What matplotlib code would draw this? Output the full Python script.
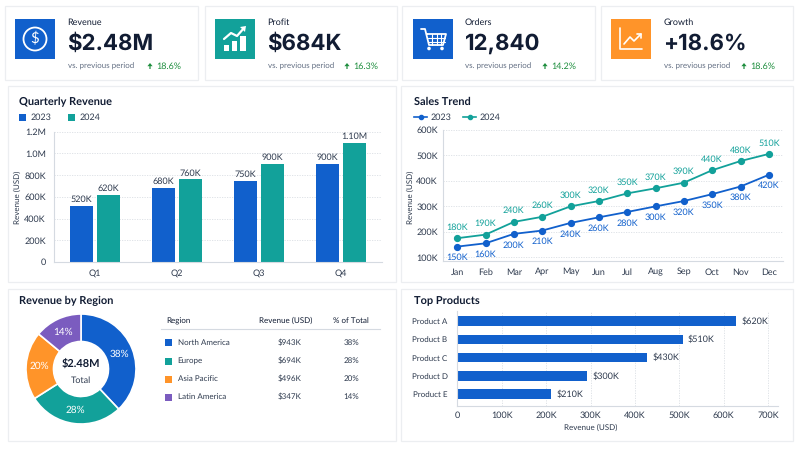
import numpy as np
import matplotlib
matplotlib.use("Agg")
import matplotlib.pyplot as plt
from matplotlib.patches import Rectangle, Circle, Polygon

plt.rcParams['font.family'] = ['Lato', 'DejaVu Sans']
plt.rcParams['text.hinting'] = 'no_hinting'
plt.rcParams['text.hinting_factor'] = 1

BLUE = '#1160CC'
TEAL = '#12A19A'
ORANGE = '#FF9429'
PURPLE = '#7B5CBF'
NAVY = '#111C33'
TEXT = '#2E3A4E'
GRAY = '#647084'
GREEN = '#1E8E3E'
BORDER = '#ECEEF1'
GRID = '#DADEE4'
AXIS = '#D5DAE1'

# KPI cards
kpi_names = ['Revenue', 'Profit', 'Orders', 'Growth']
kpi_values = ['$2.48M', '$684K', '12,840', '+18.6%']
kpi_changes = ['18.6%', '16.3%', '14.2%', '18.6%']

# Quarterly revenue
quarters = ['Q1', 'Q2', 'Q3', 'Q4']
q_2023 = [520, 680, 750, 900]
q_2024 = [620, 760, 900, 1100]
q_labels_2023 = ['520K', '680K', '750K', '900K']
q_labels_2024 = ['620K', '760K', '900K', '1.10M']
q_ticks = [0, 200, 400, 600, 800, 1000, 1200]
q_ticklabels = ['0', '200K', '400K', '600K', '800K', '1.0M', '1.2M']

# Sales trend (line heights, labels as printed)
months = ['Jan', 'Feb', 'Mar', 'Apr', 'May', 'Jun', 'Jul', 'Aug', 'Sep', 'Oct', 'Nov', 'Dec']
sales_2023 = [142, 155, 192, 205, 235, 257, 278, 300, 321, 348, 378, 424]
sales_2024 = [175, 189, 239, 259, 300, 321, 351, 371, 393, 442, 478, 506]
sales_labels_2023 = ['150K', '160K', '200K', '210K', '240K', '260K', '280K', '300K', '320K', '350K', '380K', '420K']
sales_labels_2024 = ['180K', '190K', '240K', '260K', '300K', '320K', '350K', '370K', '390K', '440K', '480K', '510K']
sales_ticks = [100, 200, 300, 400, 500, 600]

# Region donut and table
regions = ['North America', 'Europe', 'Asia Pacific', 'Latin America']
region_share = [38, 28, 20, 14]
region_revenue = ['$943K', '$694K', '$496K', '$347K']
region_colors = [BLUE, TEAL, ORANGE, PURPLE]

# Top products
products = ['Product A', 'Product B', 'Product C', 'Product D', 'Product E']
product_values = [628, 507, 427, 293, 212]
product_labels = ['$620K', '$510K', '$430K', '$300K', '$210K']
product_ticks = [0, 100, 200, 300, 400, 500, 600, 700]


def px_axes(left, top, right, bottom):
    # axes placed by pixel edges on the 800x450 canvas
    ax = fig.add_axes([left / 800, 1 - bottom / 450, (right - left) / 800, (bottom - top) / 450])
    ax.patch.set_alpha(0)
    for side in ['top', 'right']:
        ax.spines[side].set_visible(False)
    for side in ['left', 'bottom']:
        ax.spines[side].set_color(AXIS)
        ax.spines[side].set_linewidth(0.8)
    return ax


def card(x0, y0, x1, y1):
    bg.add_patch(Rectangle((x0, y0), x1 - x0, y1 - y0, fc='white', ec=BORDER, lw=0.9))


def icon_line(xs, ys, lw=1.3):
    bg.plot(xs, ys, color='white', lw=lw, solid_capstyle='round', solid_joinstyle='round', zorder=3)


def white_rect(x, y, w, h):
    bg.add_patch(Rectangle((x, y), w, h, fc='white', ec='none', zorder=3))


fig = plt.figure(figsize=(8, 4.5), dpi=100, facecolor='white')
bg = fig.add_axes([0, 0, 1, 1])
bg.set_xlim(0, 800)
bg.set_ylim(450, 0)
bg.axis('off')

# ---- KPI row
card_edges = [(5, 198), (205, 397), (402, 595), (601, 793)]
icon_x = [15, 215, 413, 611]
icon_colors = [BLUE, TEAL, BLUE, ORANGE]
text_x = [67.5, 267.5, 465, 663.5]
arrow_x = [150, 347, 545, 744]

for i in range(4):
    card(card_edges[i][0], 6, card_edges[i][1], 80)
    bg.add_patch(Rectangle((icon_x[i], 19), 40, 40, fc=icon_colors[i], ec='none', zorder=2))
    bg.text(text_x[i], 22, kpi_names[i], fontsize=6.6, color=NAVY, va='center')
    bg.text(text_x[i] - 0.5, 43.5, kpi_values[i], fontsize=16, fontweight='bold', family='Inter', color=NAVY, va='center')
    bg.text(text_x[i], 66, 'vs. previous period', fontsize=6, color=GRAY, va='center')
    a = arrow_x[i]
    bg.add_patch(Polygon([[a, 63], [a + 2.6, 66.2], [a + 0.6, 66.2], [a + 0.6, 69], [a - 0.6, 69],
                          [a - 0.6, 66.2], [a - 2.6, 66.2]], fc=GREEN, ec='none'))
    bg.text(a + 6.5, 66, kpi_changes[i], fontsize=6.7, color=GREEN, va='center')

# dollar icon
bg.add_patch(Circle((35, 39), 11.5, fc='none', ec='white', lw=1.3, zorder=3))
bg.text(35, 39, '$', color='white', fontsize=11, ha='center', va='center', zorder=4)
# profit icon
for x, h in zip([224, 232, 240], [6, 10, 15]):
    white_rect(x, 51 - h, 5, h)
white_rect(241, 51 - 15, 5, 15)
icon_line([224, 231, 237, 244], [39, 33, 36, 28], 1.6)
bg.add_patch(Polygon([[246, 26], [240, 27], [245, 32]], fc='white', ec='none', zorder=3))
# cart icon
icon_line([421, 425, 429, 443, 446, 427], [29, 29, 45, 45, 34, 34], 1.3)
for y in [38, 41.5]:
    icon_line([428, 444.5], [y, y], 0.8)
for x in [432, 436.5, 441]:
    icon_line([x, x], [34, 45], 0.8)
bg.add_patch(Circle((429, 48.5), 1.8, fc='white', ec='none', zorder=3))
bg.add_patch(Circle((442, 48.5), 1.8, fc='white', ec='none', zorder=3))
# growth icon
icon_line([620, 620, 642], [28, 49, 49], 1.2)
icon_line([624, 630, 634, 641], [44, 37, 41, 34], 1.2)
icon_line([637, 641, 641], [34, 34, 38], 1.2)

# ---- panels
card(8, 86, 396, 282)
card(401, 86, 793, 282)
card(8, 289, 396, 441)
card(401, 289, 793, 441)

bg.text(19, 101.5, 'Quarterly Revenue', fontsize=7.7, fontweight='bold', color=NAVY, va='center')
bg.text(414, 101.5, 'Sales Trend', fontsize=7.7, fontweight='bold', color=NAVY, va='center')
bg.text(19, 301, 'Revenue by Region', fontsize=7.6, fontweight='bold', color=NAVY, va='center')
bg.text(414, 301, 'Top Products', fontsize=7.6, fontweight='bold', color=NAVY, va='center')

# ---- quarterly bars
bg.add_patch(Rectangle((19, 114), 6.5, 6.5, fc=BLUE, ec='none'))
bg.text(31, 117.3, '2023', fontsize=6.3, color=TEXT, va='center')
bg.add_patch(Rectangle((68, 114), 6.5, 6.5, fc=TEAL, ec='none'))
bg.text(80, 117.3, '2024', fontsize=6.3, color=TEXT, va='center')
bg.text(18, 197, 'Revenue (USD)', fontsize=6, color=TEXT, rotation=90, ha='center', va='center')

ax = px_axes(54, 131.7, 382, 262)
pos = range(len(quarters))
ax.bar([p - 0.165 for p in pos], q_2023, width=0.28, color=BLUE, zorder=2)
ax.bar([p + 0.165 for p in pos], q_2024, width=0.28, color=TEAL, zorder=2)
for p in pos:
    ax.text(p - 0.165, q_2023[p] + 22, q_labels_2023[p], ha='center', va='bottom', fontsize=6.2, color=TEXT)
    ax.text(p + 0.165, q_2024[p] + 22, q_labels_2024[p], ha='center', va='bottom', fontsize=6.2, color=TEXT)
ax.set_xlim(-0.5, 3.5)
ax.set_ylim(0, 1200)
ax.set_xticks(list(pos))
ax.set_xticklabels(quarters)
ax.set_yticks(q_ticks)
ax.set_yticklabels(q_ticklabels)
ax.tick_params(length=0, labelsize=6.4, labelcolor=TEXT)
ax.tick_params(axis='y', pad=5.8)
ax.tick_params(axis='x', pad=5)
ax.grid(axis='y', linestyle=(0, (1.5, 1.5)), lw=0.6, color=GRID, zorder=0)
ax.set_axisbelow(True)

# ---- sales trend
bg.plot([414, 427], [117, 117], color=BLUE, lw=1.2)
bg.plot([420.5], [117], 'o', color=BLUE, ms=3)
bg.text(431, 117.3, '2023', fontsize=6.3, color=TEXT, va='center')
bg.plot([463, 476], [117, 117], color=TEAL, lw=1.2)
bg.plot([469.5], [117], 'o', color=TEAL, ms=3)
bg.text(480, 117.3, '2024', fontsize=6.3, color=TEXT, va='center')
bg.text(411, 197, 'Revenue (USD)', fontsize=6, color=TEXT, rotation=90, ha='center', va='center')

ax = px_axes(443, 130, 783, 261)
ax.plot(months, sales_2023, '-o', color=BLUE, lw=1.3, ms=4.2, zorder=3)
ax.plot(months, sales_2024, '-o', color=TEAL, lw=1.3, ms=4.2, zorder=3)
for i in range(len(months)):
    ax.annotate(sales_labels_2023[i], (i, sales_2023[i]), xytext=(0, -5), textcoords='offset points',
                ha='center', va='top', fontsize=6.2, color=BLUE)
    ax.annotate(sales_labels_2024[i], (i, sales_2024[i]), xytext=(0, 5), textcoords='offset points',
                ha='center', va='bottom', fontsize=6.2, color=TEAL)
ax.set_xlim(-0.5, 11.5)
ax.set_ylim(85.5, 600)
ax.set_yticks(sales_ticks)
ax.set_yticklabels([str(t) + 'K' for t in sales_ticks])
ax.tick_params(length=0, labelsize=6.4, labelcolor=TEXT)
ax.tick_params(axis='y', pad=3.6)
ax.tick_params(axis='x', pad=5)
ax.grid(axis='y', linestyle=(0, (1.5, 1.5)), lw=0.6, color=GRID, zorder=0)
ax.set_axisbelow(True)

# ---- donut
ax = px_axes(26, 314, 136, 424)
ax.axis('off')
ax.pie(region_share, colors=region_colors, startangle=90, counterclock=False, radius=1,
       wedgeprops=dict(width=0.5, edgecolor='white', linewidth=1.2))
ax.set_xlim(-1, 1)
ax.set_ylim(-1, 1)
cum = 0
for share in region_share:
    mid = (cum + share / 2) / 100 * 2 * np.pi
    cum += share
    ax.text(0.75 * np.sin(mid), 0.75 * np.cos(mid), str(share) + '%', color='white',
            fontsize=7.2, ha='center', va='center')
ax.text(0, 0.1, '$2.48M', fontsize=8, fontweight='bold', color=NAVY, ha='center', va='center')
ax.text(0, -0.2, 'Total', fontsize=6.2, color=TEXT, ha='center', va='center')

# ---- region table
bg.text(166, 321, 'Region', fontsize=5.7, color=NAVY, va='center')
bg.text(286, 321, 'Revenue (USD)', fontsize=5.7, color=NAVY, ha='center', va='center')
bg.text(351, 321, '% of Total', fontsize=5.7, color=NAVY, ha='center', va='center')
bg.plot([161, 380], [329.3, 329.3], color=AXIS, lw=0.8)
row_y = [342.5, 361, 379, 397]
for i in range(4):
    bg.add_patch(Rectangle((165, row_y[i] - 3.5), 7, 7, fc=region_colors[i], ec='none'))
    bg.text(177.5, row_y[i], regions[i], fontsize=5.7, color=TEXT, va='center')
    bg.text(290, row_y[i], region_revenue[i], fontsize=5.7, color=TEXT, ha='center', va='center')
    bg.text(351.5, row_y[i], str(region_share[i]) + '%', fontsize=5.7, color=TEXT, ha='center', va='center')

# ---- top products
ax = px_axes(457.3, 311, 778, 405.7)
ypos = list(range(len(products)))
ax.barh(ypos, product_values, height=0.52, color=BLUE, zorder=2)
for i in ypos:
    ax.annotate(product_labels[i], (product_values[i], i), xytext=(4, 0), textcoords='offset points',
                va='center', fontsize=6.2, color=TEXT)
ax.set_yticks(ypos)
ax.set_yticklabels(products)
ax.set_ylim(4.63, -0.55)
ax.set_xlim(0, 722)
ax.set_xticks(product_ticks)
ax.set_xticklabels(['0'] + [str(t) + 'K' for t in product_ticks[1:]])
ax.tick_params(length=0, labelsize=6.2, labelcolor=TEXT)
ax.tick_params(axis='y', labelsize=5.6, pad=7)
ax.tick_params(axis='x', pad=4)
ax.grid(axis='x', linestyle=(0, (1.5, 1.5)), lw=0.6, color=GRID, zorder=0)
ax.set_axisbelow(True)
bg.text(590.7, 427.7, 'Revenue (USD)', fontsize=5.8, color=TEXT, ha='center', va='center')

fig.savefig('out.png', dpi=100)
